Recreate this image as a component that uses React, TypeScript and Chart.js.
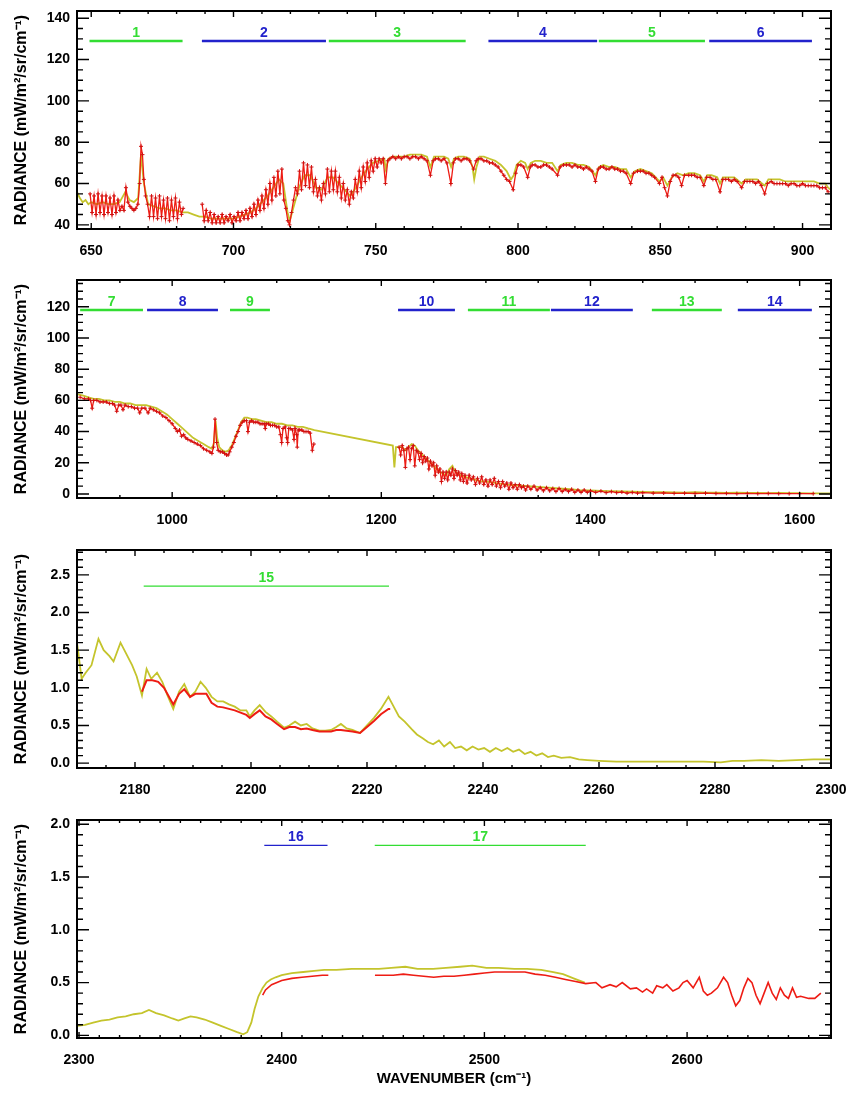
import React, { useEffect, useRef } from "react";
import { Chart, registerables } from "chart.js";
Chart.register(...registerables);

type Pt = [number, number];

// ---------------- Panel 1 (645-910 cm-1) ----------------
const P1_YELLOW: Pt[] = [[645,56],[646,53],[647,51],[648,52],[649,50],[650,51],[652,50],[654,51],[656,50],[658,50],[660,51],[662,56],[663.5,52],[665,51],[666.5,53],[667.5,74],[668.5,60],[670,50],[672,49],[674,48],[676,48],[678,47],[680,47],[682,46],[684,46],[686,45],[688,44],[690,44],[692,43],[694,43],[696,43],[698,43],[700,43],[702,44],[704,45],[706,46],[708,48],[710,51],[712,54],[714,58],[716,62],[717.5,60],[719,46],[719.8,42],[721,48],[723,58],[725,64],[727,64],[729,58],[731,57],[733,63],[735,63],[737,60],[739,57],[741,54],[743,58],[745,63],[747,67],[749,70],[751,71],[753,72],[753.5,67],[754.5,72],[756,73],[758,73],[760,73],[762,74],[764,74],[766,74],[768,73],[769.2,68],[770.5,73],[772,73],[774,73],[775.5,72],[776.5,68],[777.5,72],[779,73],[781,73],[783,72],[784,68],[784.6,62],[785.4,68],[786.5,73],[788,73],[790,72],[792,71],[794,69],[796,66],[797.5,62],[798.5,64],[799.5,69],[801,71],[802.5,70],[803.4,67],[804.5,70],[806,71],[808,71],[810,70],[812,70],[813.9,66],[815,69],[817,70],[819,70],[821,69],[823,69],[825,68],[827.2,64],[828.5,68],[830,69],[832,68],[834,68],[836,67],[838,67],[839.6,63],[841,66],[843,67],[845,66],[847,65],[849.7,61],[851,63],[852.5,59],[854,63],[856,65],[858,64],[860,65],[862,65],[864,64],[865.3,61],[866.5,64],[868,64],[870,63],[871,60],[872,63],[874,63],[876,63],[878.6,60],[880,62],[882,62],[884,62],[886.7,59],[888,62],[890,62],[892,62],[894,61],[896,61],[898,61],[900,61],[902,61],[904,61],[906,60],[908,60],[909,58],[910,57]];

const P1_RED_A: Pt[] = [[649.6,55],[650.3,46],[651.0,54],[651.7,45],[652.4,55],[653.1,46],[653.8,54],[654.5,45],[655.2,54],[655.9,46],[656.6,53],[657.3,45],[658.0,54],[658.7,46],[659.4,52],[660.1,47],[660.8,49],[661.5,47],[662.2,58],[662.9,51],[663.6,49],[664.3,48],[665.0,47],[665.7,48],[666.4,50],[667.0,60],[667.5,78],[668.0,74],[668.5,62],[669.1,54],[669.8,50],[670.5,44],[671.2,54],[671.9,44],[672.6,53],[673.3,43],[674.0,54],[674.7,44],[675.4,52],[676.1,43],[676.8,53],[677.5,42],[678.2,52],[678.9,44],[679.6,53],[680.3,43],[681.0,51],[681.7,45],[682.3,48]];

const P1_RED_B: Pt[] = [[689.0,50],[689.7,42],[690.4,47],[691.1,42],[691.8,46],[692.5,41],[693.2,45],[693.9,41],[694.6,44],[695.3,41],[696.0,45],[696.7,41],[697.4,44],[698.1,42],[698.8,45],[699.5,41],[700.2,44],[700.9,42],[701.6,46],[702.3,42],[703.0,46],[703.7,43],[704.4,47],[705.1,43],[705.8,48],[706.5,44],[707.2,50],[707.9,45],[708.6,52],[709.3,47],[710.0,54],[710.7,48],[711.4,57],[712.1,50],[712.8,60],[713.5,52],[714.2,63],[714.9,54],[715.6,66],[716.3,55],[717.0,67],[717.7,52],[718.4,48],[719.1,42],[719.7,40],[720.4,46],[721.1,52],[721.8,58],[722.5,55],[723.2,66],[723.9,57],[724.6,70],[725.3,59],[726.0,69],[726.7,58],[727.4,68],[728.1,56],[728.8,62],[729.5,54],[730.2,58],[730.9,52],[731.6,60],[732.3,55],[733.0,67],[733.7,56],[734.4,66],[735.1,57],[735.8,66],[736.5,56],[737.2,63],[737.9,53],[738.6,60],[739.3,52],[740.0,57],[740.7,50],[741.4,56],[742.1,53],[742.8,62],[743.5,56],[744.2,66],[744.9,58],[745.6,68],[746.3,61],[747.0,70],[747.7,63],[748.4,71],[749.1,66],[749.8,72],[750.5,68],[751.2,72],[751.9,70],[752.6,72],[753.4,60],[754.2,71],[755,72],[756,73],[757,72],[758,73],[759,72],[760,73],[761,73],[762,72],[763,73],[764,73],[765,72],[766,73],[767,72],[768,71],[769.2,64],[770.2,71],[771,72],[772,72],[773,71],[774,72],[775,70],[776.4,60],[777.3,70],[778,72],[779,72],[780,71],[781,72],[782,72],[783,71],[784.4,67],[785.3,71],[786,72],[787,72],[788,71],[789,71],[790,70],[791,70],[792,69],[793,68],[794,66],[795,64],[796,62],[797,61],[798.3,57],[799.2,65],[800,69],[801,69],[802,68],[803.4,63],[804.3,68],[805,69],[806,69],[807,68],[808,68],[809,69],[810,69],[811,68],[812,67],[813.9,64],[814.8,68],[816,69],[817,69],[818,69],[819,68],[820,69],[821,68],[822,68],[823,67],[824,68],[825,67],[826,66],[827.2,61],[828.2,67],[829,68],[830,68],[831,67],[832,67],[833,68],[834,67],[835,67],[836,66],[837,66],[838,65],[839.6,60],[840.6,65],[842,66],[843,66],[844,66],[845,65],[846,65],[847,64],[848,63],[849.7,60],[850.6,63],[851.5,58],[852.5,54],[853.5,61],[854.5,64],[855.5,64],[856.5,63],[857.5,59],[858.5,64],[860,64],[861,64],[862,64],[863,63],[864,63],[865.3,59],[866.3,63],[867.5,63],[868.5,62],[869.5,62],[871,56],[872,62],[873,62],[874,62],[875,61],[876,62],[877,61],[878.6,58],[879.6,61],[880.5,61],[881.5,61],[882.5,61],[883.5,60],[884.5,61],[885.5,59],[886.7,55],[887.7,60],[889,61],[890,60],[891,60],[892,60],[893,60],[894,60],[895,59],[896,60],[897,60],[898,59],[899,59],[900,60],[901,59],[902,59],[903,59],[904,59],[905,59],[906,58],[907,58],[908,58],[909,56]];

const P1_X_TICKS = [650, 700, 750, 800, 850, 900];
const P1_Y_TICKS = [40, 60, 80, 100, 120, 140];
const P1_BAND_LABELS = ["1", "2", "3", "4", "5", "6"];
const P1_BAND_START = [649.4, 688.9, 733.5, 789.6, 828.4, 867.2];
const P1_BAND_END = [682.1, 732.5, 781.6, 827.8, 865.7, 903.3];
const P1_BAND_Y = 129;

// ---------------- Panel 2 (909-1630 cm-1) ----------------
const P2_YELLOW: Pt[] = [[909,64],[915,63],[920,62],[925,61],[930,61],[935,60],[940,60],[945,59],[950,59],[955,58],[960,58],[965,57],[970,57],[975,57],[980,56],[985,55],[990,53],[995,51],[1000,48],[1005,45],[1010,42],[1015,39],[1020,36],[1025,34],[1030,32],[1035,30],[1038,29],[1040,33],[1041.5,47],[1043,36],[1045,30],[1048,28],[1051,27],[1054,28],[1057,31],[1060,36],[1063,41],[1066,46],[1069,49],[1072,49],[1076,48],[1080,48],[1085,47],[1090,46],[1095,46],[1100,45],[1105,45],[1110,44],[1115,44],[1120,43],[1125,43],[1130,42],[1136,41],[1211,31],[1212.5,17],[1214,30],[1217,30],[1220,30],[1223,28],[1226,30],[1229,32],[1232,31],[1235,28],[1238,26],[1241,24],[1244,22],[1247,20],[1250,18],[1253,16],[1256,14],[1259,13],[1262,12],[1265,16],[1268,18],[1270,15],[1273,13],[1276,12],[1280,11],[1285,10],[1290,9],[1295,8],[1300,8],[1310,7],[1320,6],[1330,5.5],[1340,5],[1350,4.5],[1360,4],[1370,3.5],[1380,3],[1390,2.5],[1400,2.2],[1410,2],[1420,1.8],[1430,1.6],[1440,1.4],[1450,1.3],[1460,1.2],[1470,1.1],[1480,1.0],[1490,0.9],[1500,1.2],[1510,0.8],[1520,0.9],[1530,0.7],[1540,0.8],[1550,0.6],[1560,0.7],[1570,0.5],[1580,0.6],[1590,0.5],[1600,0.5],[1610,0.4],[1620,0.4],[1630,0.4]];

const P2_RED_A: Pt[] = [[912,62],[916,61],[920,61],[922,60],[923.5,55],[925,60],[928,60],[931,59],[934,59],[937,59],[940,58],[943,58],[945,57],[947,53],[949,57],[951,57],[953,54],[955,57],[958,56],[961,56],[964,55],[967,55],[969,52],[971,55],[974,55],[977,52],[979,55],[982,54],[985,53],[988,52],[991,50],[994,49],[997,47],[1000,45],[1003,42],[1005,40],[1007,41],[1009,37],[1011,38],[1013,36],[1015,35],[1018,34],[1021,33],[1024,32],[1027,31],[1030,29],[1033,28],[1036,27],[1038,26],[1039.5,30],[1041,48],[1042.5,33],[1044,28],[1046,27],[1048,27],[1050,26],[1052,25],[1053.5,25],[1055,27],[1057,30],[1059,33],[1061,37],[1063,40],[1065,44],[1067,46],[1069,47],[1071,47],[1072.5,40],[1074,46],[1076,47],[1078,46],[1080,46],[1082,46],[1084,45],[1086,45],[1088,45],[1089,42],[1090,45],[1092,45],[1094,44],[1096,44],[1098,44],[1100,43],[1102,43],[1103.5,38],[1104.7,33],[1106,42],[1108,43],[1109.5,36],[1110.4,33],[1111.5,42],[1113,42],[1115,41],[1116.5,35],[1117.5,42],[1119,38],[1119.6,30],[1120.5,41],[1122,41],[1124,41],[1126,40],[1128,40],[1130,40],[1132,39],[1134,28],[1135.5,32]];

const P2_RED_B: Pt[] = [[1217,30],[1218.5,25],[1220,31],[1221.5,28],[1223,17],[1224.5,29],[1226,30],[1227.5,22],[1229,29],[1230.5,31],[1232,18],[1233.5,28],[1235,27],[1236.5,22],[1238,26],[1239.5,20],[1241,24],[1242.5,21],[1244,23],[1245.5,16],[1247,21],[1248.5,18],[1250,20],[1251.5,12],[1253,18],[1254.5,14],[1256,16],[1257.5,8],[1259,14],[1260.5,10],[1262,14],[1263.5,9],[1265,14],[1266.5,12],[1268,16],[1269.5,10],[1271,15],[1272.5,12],[1274,14],[1275.5,9],[1277,13],[1278.5,8],[1280,12],[1282,7],[1284,12],[1286,9],[1288,11],[1290,6],[1292,10],[1294,7],[1296,11],[1298,6],[1300,9],[1302,5],[1304,9],[1306,6],[1308,10],[1310,5],[1312,8],[1314,4],[1316,8],[1318,5],[1320,7],[1322,3],[1324,7],[1326,4],[1328,6],[1330,3],[1332,6],[1334,4],[1336,5],[1338,2.5],[1340,5],[1343,3],[1346,5],[1349,2.5],[1352,4],[1355,2],[1358,4],[1361,2],[1364,3.5],[1367,1.5],[1370,3.5],[1373,1.5],[1376,3],[1379,1.5],[1382,3],[1385,1],[1388,2.5],[1391,1],[1394,2.5],[1397,1],[1400,2],[1405,1],[1410,1.8],[1415,0.8],[1420,1.5],[1425,0.8],[1430,1.2],[1435,0.5],[1440,1.0],[1445,0.5],[1450,0.8],[1460,0.5],[1470,0.6],[1480,0.4],[1490,0.5],[1500,0.3],[1510,0.5],[1520,0.3],[1530,0.4],[1540,0.2],[1550,0.3],[1560,0.2],[1570,0.3],[1580,0.2],[1590,0.2],[1600,0.2],[1613,0.2]];

const P2_X_TICKS = [1000, 1200, 1400, 1600];
const P2_Y_TICKS = [0, 20, 40, 60, 80, 100, 120];
const P2_BAND_LABELS = ["7", "8", "9", "10", "11", "12", "13", "14"];
const P2_BAND_START = [912.0, 976.0, 1055.3, 1216.0, 1282.8, 1362.2, 1458.7, 1540.9];
const P2_BAND_END = [972.1, 1043.8, 1093.5, 1270.4, 1361.2, 1440.5, 1525.6, 1611.7];
const P2_BAND_Y = 118;

// ---------------- Panel 3 (2170-2300 cm-1) ----------------
const P3_YELLOW: Pt[] = [[2170,1.6],[2170.8,1.12],[2171.5,1.2],[2172.5,1.3],[2173.7,1.65],[2174.6,1.5],[2175.6,1.42],[2176.3,1.35],[2177.5,1.6],[2178.5,1.45],[2179.5,1.3],[2180.3,1.15],[2181.2,0.9],[2182,1.25],[2182.8,1.12],[2183.8,1.2],[2184.7,1.08],[2185.6,0.9],[2186.6,0.72],[2187.6,0.95],[2188.5,1.05],[2189.5,0.88],[2190.4,0.95],[2191.3,1.08],[2192.2,1.0],[2193.2,0.88],[2194.2,0.82],[2195.2,0.82],[2196.2,0.78],[2197.2,0.75],[2198.2,0.7],[2199.2,0.7],[2199.8,0.62],[2200.6,0.7],[2201.5,0.77],[2202.5,0.68],[2203.5,0.62],[2204.5,0.55],[2205.7,0.47],[2206.6,0.5],[2207.6,0.55],[2208.6,0.5],[2209.6,0.52],[2210.6,0.46],[2211.8,0.43],[2212.8,0.43],[2213.8,0.44],[2214.7,0.48],[2215.5,0.52],[2216.5,0.46],[2217.5,0.44],[2218.8,0.4],[2220,0.5],[2221.2,0.6],[2222.4,0.72],[2223.7,0.88],[2224.6,0.75],[2225.5,0.62],[2226.5,0.55],[2227.7,0.45],[2228.6,0.38],[2229.6,0.33],[2230.5,0.28],[2231.4,0.25],[2232.4,0.3],[2233.3,0.22],[2234.3,0.28],[2235.2,0.2],[2236.2,0.22],[2237.2,0.17],[2238.2,0.22],[2239.2,0.18],[2240.2,0.2],[2241.2,0.15],[2242.2,0.2],[2243.2,0.16],[2244.2,0.2],[2245.2,0.15],[2246.2,0.18],[2247.2,0.12],[2248.2,0.15],[2249.2,0.1],[2250.2,0.13],[2251.2,0.08],[2252.2,0.1],[2253.5,0.07],[2255,0.08],[2256.5,0.05],[2258,0.04],[2260,0.03],[2263,0.02],[2266,0.02],[2270,0.02],[2274,0.02],[2278,0.02],[2281,0.01],[2283,0.03],[2285,0.03],[2288,0.04],[2291,0.03],[2294,0.04],[2297,0.05],[2300,0.05]];

const P3_RED: Pt[] = [[2181.2,0.95],[2182,1.1],[2183,1.1],[2184,1.08],[2185,1.0],[2186.6,0.78],[2187.6,0.92],[2188.5,0.98],[2189.5,0.88],[2190.4,0.92],[2191.3,0.92],[2192.3,0.92],[2193.2,0.8],[2194.2,0.75],[2195.2,0.74],[2196.2,0.72],[2197.2,0.7],[2198.2,0.67],[2199.2,0.64],[2199.8,0.6],[2200.6,0.65],[2201.5,0.7],[2202.5,0.62],[2203.5,0.58],[2204.5,0.52],[2205.7,0.45],[2206.6,0.48],[2207.6,0.48],[2208.6,0.45],[2209.6,0.46],[2210.6,0.44],[2211.8,0.42],[2212.8,0.42],[2213.8,0.42],[2214.7,0.44],[2215.5,0.44],[2216.5,0.43],[2217.5,0.42],[2218.8,0.4],[2220,0.48],[2221.2,0.56],[2222.4,0.65],[2223.7,0.72],[2224,0.72]];

const P3_X_TICKS = [2180, 2200, 2220, 2240, 2260, 2280, 2300];
const P3_Y_TICKS = [0, 0.5, 1.0, 1.5, 2.0, 2.5];
const P3_BAND_LABELS = ["15"];
const P3_BAND_START = [2181.5];
const P3_BAND_END = [2223.8];
const P3_BAND_Y = 2.35;

// ---------------- Panel 4 (2299-2671 cm-1) ----------------
const P4_YELLOW: Pt[] = [[2299,0.09],[2303,0.1],[2307,0.12],[2311,0.14],[2315,0.15],[2319,0.17],[2323,0.18],[2327,0.2],[2331,0.21],[2334.5,0.24],[2338,0.21],[2342,0.19],[2346,0.16],[2349,0.14],[2352,0.16],[2355,0.18],[2358,0.17],[2362,0.15],[2366,0.12],[2370,0.09],[2374,0.06],[2378,0.03],[2381,0.01],[2383,0.03],[2385,0.12],[2386.6,0.25],[2388.5,0.37],[2390.6,0.45],[2392.5,0.5],[2394.6,0.53],[2397,0.55],[2400,0.57],[2405,0.59],[2410.6,0.6],[2416,0.61],[2421,0.62],[2427,0.62],[2434.6,0.63],[2441,0.63],[2448,0.63],[2454,0.64],[2461,0.65],[2467,0.63],[2474.7,0.63],[2481,0.64],[2488,0.65],[2494,0.66],[2501,0.64],[2507,0.64],[2514.7,0.63],[2521,0.63],[2528,0.62],[2534,0.6],[2538.8,0.58],[2544,0.54],[2549.5,0.5]];

const P4_RED_A: Pt[] = [[2390.6,0.38],[2392,0.43],[2395,0.48],[2400,0.52],[2405,0.54],[2410,0.55],[2415,0.56],[2420,0.57],[2423,0.57]];

const P4_RED_B: Pt[] = [[2446,0.57],[2450,0.57],[2455,0.57],[2460,0.58],[2465,0.57],[2470,0.56],[2475,0.55],[2480,0.56],[2485,0.56],[2490,0.57],[2495,0.58],[2500,0.59],[2505,0.6],[2510,0.6],[2515,0.6],[2520,0.6],[2525,0.58],[2530,0.57],[2535,0.55],[2540,0.53],[2545,0.51],[2550,0.49],[2555,0.5],[2558,0.45],[2562,0.48],[2565,0.46],[2568,0.5],[2572,0.44],[2575,0.45],[2578,0.41],[2580,0.44],[2583,0.4],[2585,0.47],[2588,0.45],[2590,0.48],[2593,0.42],[2596,0.45],[2598,0.5],[2600,0.52],[2603,0.45],[2606,0.55],[2608,0.42],[2610,0.38],[2612,0.4],[2615,0.45],[2618,0.55],[2620,0.5],[2622,0.38],[2624,0.28],[2626,0.33],[2628,0.45],[2630,0.54],[2632,0.5],[2634,0.38],[2636,0.3],[2638,0.4],[2640,0.5],[2642,0.4],[2644,0.34],[2646,0.45],[2648,0.38],[2650,0.35],[2652,0.45],[2654,0.36],[2656,0.37],[2660,0.35],[2663,0.35],[2666,0.4]];

const P4_X_TICKS = [2300, 2400, 2500, 2600];
const P4_Y_TICKS = [0, 0.5, 1.0, 1.5, 2.0];
const P4_BAND_LABELS = ["16", "17"];
const P4_BAND_START = [2391.4, 2445.9];
const P4_BAND_END = [2422.6, 2550];
const P4_BAND_Y = 1.8;

// ---------------- styles ----------------
const RED = "#ee1c14";
const OLIVE = "#c4c42c";
const GREEN = "#33dd33";
const BLUE = "#2222cc";
const FONT_FAMILY = "'Liberation Sans', Arial, Helvetica, sans-serif";
const Y_TITLE = "RADIANCE (mW/m²/sr/cm⁻¹)";
const X_TITLE = "WAVENUMBER (cm⁻¹)";

type PanelCfg = {
  top: number; height: number; areaTop: number; areaBottom: number;
  xMin: number; xMax: number; yMin: number; yMax: number;
  xTicks: number[]; yTicks: number[]; xMinor: number; yMinor: number; decimals: number;
  yellow: Pt[]; red: Pt[][]; markers: boolean; redWidth: number;
  bandLabels: string[]; bandStart: number[]; bandEnd: number[]; bandY: number; bandFirst: number; bandWidth: number;
  xTitle: boolean;
};

const PANELS: PanelCfg[] = [
  { top: 0, height: 270, areaTop: 11, areaBottom: 229, xMin: 645, xMax: 910, yMin: 38, yMax: 143.5,
    xTicks: P1_X_TICKS, yTicks: P1_Y_TICKS, xMinor: 10, yMinor: 5, decimals: 0,
    yellow: P1_YELLOW, red: [P1_RED_A, P1_RED_B], markers: true, redWidth: 1.3,
    bandLabels: P1_BAND_LABELS, bandStart: P1_BAND_START, bandEnd: P1_BAND_END, bandY: P1_BAND_Y, bandFirst: 1, bandWidth: 2.5, xTitle: false },
  { top: 270, height: 270, areaTop: 10, areaBottom: 228, xMin: 909, xMax: 1630, yMin: -2.6, yMax: 137.2,
    xTicks: P2_X_TICKS, yTicks: P2_Y_TICKS, xMinor: 50, yMinor: 5, decimals: 0,
    yellow: P2_YELLOW, red: [P2_RED_A, P2_RED_B], markers: true, redWidth: 1.3,
    bandLabels: P2_BAND_LABELS, bandStart: P2_BAND_START, bandEnd: P2_BAND_END, bandY: P2_BAND_Y, bandFirst: 7, bandWidth: 2.5, xTitle: false },
  { top: 540, height: 270, areaTop: 10, areaBottom: 228, xMin: 2170, xMax: 2300, yMin: -0.065, yMax: 2.83,
    xTicks: P3_X_TICKS, yTicks: P3_Y_TICKS, xMinor: 5, yMinor: 0.1, decimals: 1,
    yellow: P3_YELLOW, red: [P3_RED], markers: false, redWidth: 2,
    bandLabels: P3_BAND_LABELS, bandStart: P3_BAND_START, bandEnd: P3_BAND_END, bandY: P3_BAND_Y, bandFirst: 15, bandWidth: 1.2, xTitle: false },
  { top: 810, height: 280, areaTop: 10, areaBottom: 228, xMin: 2299, xMax: 2671, yMin: -0.025, yMax: 2.04,
    xTicks: P4_X_TICKS, yTicks: P4_Y_TICKS, xMinor: 10, yMinor: 0.1, decimals: 1,
    yellow: P4_YELLOW, red: [P4_RED_A, P4_RED_B], markers: false, redWidth: 1.6,
    bandLabels: P4_BAND_LABELS, bandStart: P4_BAND_START, bandEnd: P4_BAND_END, bandY: P4_BAND_Y, bandFirst: 16, bandWidth: 1.2, xTitle: true },
];

const bandColor = (n: number) => (n % 2 === 1 ? GREEN : BLUE);

function framePlugin(cfg: PanelCfg) {
  return {
    id: "idlFrame",
    afterDatasetsDraw(chart: any) {
      const { ctx, chartArea: a, scales } = chart;
      const xs = scales.x, ys = scales.y;
      ctx.save();
      ctx.strokeStyle = "#000";
      ctx.lineWidth = 1.4;
      ctx.beginPath();
      const xi0 = Math.ceil(cfg.xMin / cfg.xMinor - 1e-9), xi1 = Math.floor(cfg.xMax / cfg.xMinor + 1e-9);
      for (let i = xi0; i <= xi1; i++) {
        const v = i * cfg.xMinor;
        const maj = cfg.xTicks.some((t) => Math.abs(t - v) < 1e-6);
        const len = maj ? 6 : 3;
        const p = xs.getPixelForValue(v);
        ctx.moveTo(p, a.bottom); ctx.lineTo(p, a.bottom - len);
        ctx.moveTo(p, a.top); ctx.lineTo(p, a.top + len);
      }
      const yi0 = Math.ceil(cfg.yMin / cfg.yMinor - 1e-9), yi1 = Math.floor(cfg.yMax / cfg.yMinor + 1e-9);
      for (let i = yi0; i <= yi1; i++) {
        const v = i * cfg.yMinor;
        const maj = cfg.yTicks.some((t) => Math.abs(t - v) < 1e-6);
        const len = maj ? 12 : 6;
        const p = ys.getPixelForValue(v);
        ctx.moveTo(a.left, p); ctx.lineTo(a.left + len, p);
        ctx.moveTo(a.right, p); ctx.lineTo(a.right - len, p);
      }
      ctx.stroke();
      ctx.lineWidth = 2;
      ctx.strokeRect(a.left, a.top, a.right - a.left, a.bottom - a.top);
      // band labels
      ctx.font = `bold 14px ${FONT_FAMILY}`;
      ctx.textAlign = "center";
      ctx.textBaseline = "bottom";
      cfg.bandLabels.forEach((lab, i) => {
        const cx = xs.getPixelForValue((cfg.bandStart[i] + cfg.bandEnd[i]) / 2);
        const cy = ys.getPixelForValue(cfg.bandY);
        ctx.fillStyle = bandColor(cfg.bandFirst + i);
        ctx.fillText(lab, cx, cy - 1);
      });
      ctx.restore();
    },
  };
}

function Panel({ cfg }: { cfg: PanelCfg }) {
  const ref = useRef<HTMLCanvasElement>(null);
  useEffect(() => {
    if (!ref.current) return;
    const datasets: any[] = [];
    cfg.red.forEach((seg) => {
      datasets.push({
        data: seg.map(([x, y]) => ({ x, y })),
        borderColor: RED, borderWidth: cfg.redWidth,
        pointRadius: cfg.markers ? 2 : 0, pointStyle: "cross",
        pointBorderColor: "#d01010", pointBorderWidth: 1, pointBackgroundColor: RED,
        order: 1, clip: 0,
      });
    });
    datasets.push({
      data: cfg.yellow.map(([x, y]) => ({ x, y })),
      borderColor: OLIVE, borderWidth: 1.8, pointRadius: 0, order: 2, clip: 0,
    });
    cfg.bandLabels.forEach((_, i) => {
      datasets.push({
        data: [{ x: cfg.bandStart[i], y: cfg.bandY }, { x: cfg.bandEnd[i], y: cfg.bandY }],
        borderColor: bandColor(cfg.bandFirst + i), borderWidth: cfg.bandWidth, pointRadius: 0, order: 0,
      });
    });
    const tickFont = { family: FONT_FAMILY, size: 14, weight: "bold" as const };
    const chart = new Chart(ref.current, {
      type: "line",
      data: { datasets },
      options: {
        animation: false,
        responsive: false,
        maintainAspectRatio: false,
        events: [],
        layout: { padding: { left: 0, right: 18, top: cfg.areaTop, bottom: 0 } },
        elements: { line: { tension: 0 } },
        plugins: { legend: { display: false }, tooltip: { enabled: false } },
        scales: {
          x: {
            type: "linear", min: cfg.xMin, max: cfg.xMax,
            grid: { display: false, drawTicks: false }, border: { display: false },
            ticks: { font: tickFont, color: "#000", padding: 14, autoSkip: false, maxRotation: 0, includeBounds: false,
              callback: (v: any) => String(v) },
            afterBuildTicks: (s: any) => { s.ticks = cfg.xTicks.map((v) => ({ value: v })); },
            afterFit: (s: any) => { s.height = cfg.height - cfg.areaBottom; s.paddingLeft = 0; s.paddingRight = 0; },
            title: cfg.xTitle
              ? { display: true, text: X_TITLE, color: "#000", font: { family: FONT_FAMILY, size: 15, weight: "bold" }, padding: { top: 0, bottom: 2 } }
              : { display: false },
          },
          y: {
            type: "linear", min: cfg.yMin, max: cfg.yMax,
            grid: { display: false, drawTicks: false }, border: { display: false },
            ticks: { font: tickFont, color: "#000", padding: 7, autoSkip: false, includeBounds: false,
              callback: (v: any) => Number(v).toFixed(cfg.decimals) },
            afterBuildTicks: (s: any) => { s.ticks = cfg.yTicks.map((v) => ({ value: v })); },
            afterFit: (s: any) => { s.width = 77; s.paddingTop = 0; s.paddingBottom = 0; },
            title: { display: true, text: Y_TITLE, color: "#000", font: { family: FONT_FAMILY, size: 16, weight: "bold" }, padding: { top: 12, bottom: 0 } },
          },
        },
      },
      plugins: [framePlugin(cfg)],
    } as any);
    return () => chart.destroy();
  }, [cfg]);
  return (
    <canvas ref={ref} width={849} height={cfg.height}
      style={{ position: "absolute", left: 0, top: cfg.top, width: 849, height: cfg.height }} />
  );
}

export default function App() {
  return (
    <div style={{ position: "absolute", left: 0, top: 0, width: 849, height: 1095, background: "#fff" }}>
      {PANELS.map((p, i) => <Panel key={i} cfg={p} />)}
    </div>
  );
}
